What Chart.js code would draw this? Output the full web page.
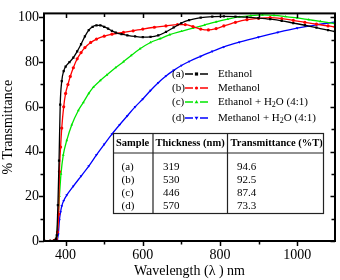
<!DOCTYPE html>
<html><head><meta charset="utf-8">
<script src="https://cdn.jsdelivr.net/npm/chart.js@4"></script>
<style>html,body{margin:0;padding:0;background:#fff}canvas{display:block}</style>
</head><body>
<canvas id="c" width="340" height="280"></canvas>
<script>
// ---- data ----
const ethanolX = [345,360,370,375,377,380,383,386,390,395,400,410,420,430,440,450,460,470,480,490,500,510,520,530,545,560,580,600,620,640,660,680,700,720,750,780,810,840,870,900,930,960,990,1020,1050,1080,1098];
const ethanolY = [0,0,0.2,1,2.5,16,36,61,71.5,76,78,80,82,84.8,88,91.5,94.3,95.8,96.4,96.4,95.8,95,94,93.2,92.5,92,91.5,91.2,91.3,92,93.5,95.5,97.5,98.8,99.9,100.4,100.5,100.4,100.1,99.7,99.2,98.5,97.5,96.5,95.4,94.3,93.7];

const methanolX = [345,360,370,376,379,382,384,387,390,395,400,406,412,420,430,440,450,465,480,500,520,550,575,600,630,660,690,710,730,750,770,790,810,840,870,900,930,960,990,1020,1050,1080,1098];
const methanolY = [0,0,0.2,1,4,12,31,42,50.5,60,66,70,73.6,77.5,81.5,84.3,86.5,88.8,90.3,91.6,92.5,93.3,94,94.8,95.6,96.2,96.8,96.8,95.9,94.8,94.4,95,96.2,97.8,99,99.6,99.9,99.5,98.7,97.8,97,96.2,95.8];

const ethanolWaterX = [345,360,370,375,377,381,384,388,394,403,416,433,446,460,472,490,507,530,550,570,593,620,645,670,700,730,760,790,820,850,880,910,940,970,1000,1030,1060,1098];
const ethanolWaterY = [0,0,0.3,1,2,12,20,30,38.5,45,52,58.4,62,66,68.8,71.8,74.3,77.6,80.2,83,86,88.8,90.5,92.3,93.8,95.2,96.6,98,99.2,100.2,100.8,101.1,100.9,100.4,99.8,99,98.2,97.2];

const methanolWaterX = [345,360,370,378,381,384,387,390,395,403,420,440,460,480,500,520,540,560,580,600,620,640,660,680,700,720,750,780,810,850,900,950,1000,1050,1098];
const methanolWaterY = [0,0,0.1,0.4,3,9.4,13,15.6,18,20.5,24.5,29,33.5,38.5,43.2,47.8,52,56,60,63.5,67.3,70.8,73.8,76.3,78.5,80.3,82.6,84.8,86.8,88.9,91.2,93.3,95.2,96.7,97.9];

const seriesTags = ['(a)','(b)','(c)','(d)'];
const seriesNames = ['Ethanol','Methanol','Ethanol + H₂O (4:1)','Methanol + H₂O (4:1)'];

const xTickValues = [400,500,600,700,800,900,1000];
const yTickValues = [0,10,20,30,40,50,60,70,80,90,100];

const tableHeader = ['Sample','Thickness (nm)','Transmittance (%T)'];
const tableSample = ['(a)','(b)','(c)','(d)'];
const tableThickness = ['319','530','446','570'];
const tableTransmittance = ['94.6','92.5','87.4','73.3'];

// ---- styling ----
const FONT = '"Liberation Serif","Times New Roman",serif';
const colors = ['#000000','#ff0000','#00e600','#0000ff'];
const styles = ['rect','circle','triangle','triangle'];
const rotations = [0,0,0,180];

function pts(xs, ys){ return xs.map((x,i)=>({x:x, y:ys[i]})); }
const seriesData = [pts(ethanolX,ethanolY), pts(methanolX,methanolY), pts(ethanolWaterX,ethanolWaterY), pts(methanolWaterX,methanolWaterY)];

function drawMarker(ctx, style, rot, x, y, r, color){
  ctx.save(); ctx.fillStyle = color; ctx.translate(x,y); ctx.rotate(rot*Math.PI/180);
  ctx.beginPath();
  if(style==='rect'){ ctx.rect(-r,-r,2*r,2*r); }
  else if(style==='circle'){ ctx.arc(0,0,r,0,Math.PI*2); }
  else { ctx.moveTo(0,-r*1.3); ctx.lineTo(r*1.2,r*0.8); ctx.lineTo(-r*1.2,r*0.8); ctx.closePath(); }
  ctx.fill(); ctx.restore();
}

function drawSubText(ctx, text, x, y, size){
  // renders "₂" as a real subscript
  const parts = text.split('₂');
  let cx = x;
  for(let i=0;i<parts.length;i++){
    ctx.font = size+'px '+FONT;
    ctx.fillText(parts[i], cx, y);
    cx += ctx.measureText(parts[i]).width;
    if(i<parts.length-1){
      ctx.font = Math.round(size*0.7)+'px '+FONT;
      ctx.fillText('2', cx, y+3);
      cx += ctx.measureText('2').width;
    }
  }
}

const decor = {
  id:'decor',
  afterDatasetsDraw(chart){
    const ctx = chart.ctx;
    ctx.save();
    // legend
    const rowsY = [74,88,102,118];
    ctx.textBaseline = 'middle';
    for(let i=0;i<4;i++){
      const y = rowsY[i];
      ctx.fillStyle = '#000';
      ctx.font = '11px '+FONT;
      ctx.textAlign = 'left';
      ctx.fillText(seriesTags[i], 172, y);
      ctx.strokeStyle = colors[i]; ctx.lineWidth = 1.3;
      ctx.beginPath(); ctx.moveTo(185,y); ctx.lineTo(193,y); ctx.moveTo(200,y); ctx.lineTo(208,y); ctx.stroke();
      drawMarker(ctx, styles[i], rotations[i], 196.5, y, 1.6, colors[i]);
      ctx.fillStyle = '#000';
      drawSubText(ctx, seriesNames[i], 218, y, 11);
    }
    // table
    const L=113.5, R=323.5, T=133.5, H=153, B=213.5, V1=153, V2=227.5;
    ctx.fillStyle='#fff'; ctx.fillRect(L,T,R-L,B-T);
    ctx.strokeStyle='#222'; ctx.lineWidth=1.2;
    ctx.strokeRect(L,T,R-L,B-T);
    ctx.beginPath();
    ctx.moveTo(L,H); ctx.lineTo(R,H);
    ctx.moveTo(V1,T); ctx.lineTo(V1,B);
    ctx.moveTo(V2,T); ctx.lineTo(V2,B);
    ctx.stroke();
    ctx.fillStyle='#000'; ctx.textAlign='left'; ctx.textBaseline='middle';
    ctx.font = 'bold 10.5px '+FONT;
    ctx.fillText(tableHeader[0], 116, 143);
    ctx.fillText(tableHeader[1], 155.5, 143);
    ctx.save(); ctx.beginPath(); ctx.rect(V2, T, R-V2-1, H-T); ctx.clip();
    ctx.fillText(tableHeader[2], 230.5, 143);
    ctx.restore();
    ctx.font = '11px '+FONT;
    const ry = [167,180,193,206];
    for(let i=0;i<4;i++){
      ctx.fillText(tableSample[i], 121.5, ry[i]);
      ctx.fillText(tableThickness[i], 163, ry[i]);
      ctx.fillText(tableTransmittance[i], 237, ry[i]);
    }
    ctx.restore();
  },
  afterDraw(chart){
    const ctx = chart.ctx, a = chart.chartArea, xs = chart.scales.x, ys = chart.scales.y;
    ctx.save();
    ctx.strokeStyle='#000'; ctx.lineWidth=2;
    ctx.strokeRect(a.left, a.top, a.right-a.left, a.bottom-a.top);
    ctx.lineWidth=1.5;
    ctx.beginPath();
    xTickValues.forEach(v=>{
      const p = Math.round(xs.getPixelForValue(v))+0.5;
      const major = v%200===0;
      ctx.moveTo(p,a.bottom); ctx.lineTo(p,a.bottom+(major?5:3.5));
      ctx.moveTo(p,a.top); ctx.lineTo(p,a.top+(major?4.5:3.5));
    });
    yTickValues.forEach(v=>{
      const p = Math.round(ys.getPixelForValue(v))+0.5;
      const major = v%20===0;
      ctx.moveTo(a.left,p); ctx.lineTo(a.left-(major?5:3.5),p);
      ctx.moveTo(a.right,p); ctx.lineTo(a.right-(major?4.5:3.5),p);
    });
    ctx.stroke();
    ctx.restore();
  }
};

new Chart(document.getElementById('c'), {
  type:'line',
  data:{
    datasets: seriesData.map((d,i)=>({
      label: seriesNames[i],
      data: d,
      borderColor: colors[i],
      backgroundColor: colors[i],
      borderWidth: 1.3,
      pointStyle: styles[i],
      pointRotation: rotations[i],
      pointRadius: 1.6,
      pointBorderWidth: 0,
      cubicInterpolationMode: 'monotone',
      fill: false
    }))
  },
  options:{
    responsive:false, animation:false, devicePixelRatio:1,
    layout:{padding:{left:0,right:5,top:7,bottom:0}},
    plugins:{legend:{display:false}, tooltip:{enabled:false}},
    scales:{
      x:{
        type:'linear', min:344, max:1098,
        afterBuildTicks:s=>{ s.ticks = xTickValues.map(v=>({value:v})); },
        afterFit:s=>{ s.height = 39; },
        grid:{display:false, drawTicks:false}, border:{display:false},
        ticks:{color:'#000', font:{family:FONT,size:14}, padding:6, maxRotation:0, autoSkip:false,
               callback:v=> (v%200===0 ? String(v) : '')},
        title:{display:true, text:'Wavelength (λ ) nm', color:'#000', font:{family:FONT,size:14}, padding:{top:0,bottom:0}}
      },
      y:{
        type:'linear', min:0, max:101.8,
        afterBuildTicks:s=>{ s.ticks = yTickValues.map(v=>({value:v})); },
        afterFit:s=>{ s.width = 44; },
        grid:{display:false, drawTicks:false}, border:{display:false},
        ticks:{color:'#000', font:{family:FONT,size:14}, padding:5, autoSkip:false,
               callback:v=> (v%20===0 ? String(v) : '')},
        title:{display:true, text:'% Transmittance', color:'#000', font:{family:FONT,size:14}, padding:{top:0,bottom:0}}
      }
    }
  },
  plugins:[decor]
});
</script>
</body></html>
